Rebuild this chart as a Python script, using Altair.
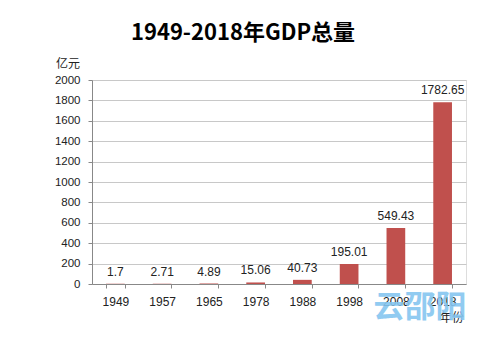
import altair as alt
import pandas as pd

years = ["1949", "1957", "1965", "1978", "1988", "1998", "2008", "2018"]
gdp = [1.7, 2.71, 4.89, 15.06, 40.73, 195.01, 549.43, 1782.65]
labels = ["1.7", "2.71", "4.89", "15.06", "40.73", "195.01", "549.43", "1782.65"]
y_ticks = list(range(0, 2001, 200))

df = pd.DataFrame({"year": years, "gdp": gdp, "label": labels})

FONT = "Noto Sans CJK SC"
NUM_FONT = "Liberation Sans"

x = alt.X("year:N", sort=years,
          scale=alt.Scale(paddingInner=0.6, paddingOuter=0.3),
          axis=alt.Axis(title=None, labelAngle=0, labelFont=NUM_FONT, labelFontSize=12,
                        labelColor="#222", labelPadding=8, domainColor="#888",
                        tickColor="#888", tickSize=4, tickBand="extent", grid=False))
y = alt.Y("gdp:Q", scale=alt.Scale(domain=[0, 2000], nice=False),
          axis=alt.Axis(title=None, values=y_ticks, format="d", labelOverlap=False,
                        labelFont=NUM_FONT, labelFontSize=11.5,
                        labelColor="#222", labelPadding=8, domainColor="#888",
                        tickColor="#888", tickSize=4, gridColor="#c8c8c8"))

base = alt.Chart(df)
bars = base.mark_bar(color="#C0504D").encode(x=x, y=y)
text = base.mark_text(baseline="bottom", dy=-5, font=NUM_FONT, fontSize=12, color="#222").encode(
    x=x, y=y, text="label:N")

title = alt.Chart(pd.DataFrame({"t": ["1949-2018年GDP总量"]})).mark_text(
    font=FONT, fontSize=22, fontWeight="bold", color="#000", baseline="middle", align="center"
).encode(x=alt.value(151), y=alt.value(-47), text="t:N")

unit = alt.Chart(pd.DataFrame({"t": ["亿元"]})).mark_text(
    font=FONT, fontSize=12, color="#222", baseline="middle", align="center"
).encode(x=alt.value(-24), y=alt.value(-16), text="t:N")

xunit = alt.Chart(pd.DataFrame({"t": ["年份"]})).mark_text(
    font=FONT, fontSize=12, color="#222", baseline="middle", align="center"
).encode(x=alt.value(360), y=alt.value(238), text="t:N")

wm = alt.Chart(pd.DataFrame({"t": ["云邵阳"]})).mark_text(
    font=FONT, fontSize=31, fontWeight="bold", color="#86c6f0", opacity=0.9,
    baseline="middle", align="center"
).encode(x=alt.value(328), y=alt.value(228), text="t:N")

chart = alt.layer(bars, text, title, unit, xunit, wm).properties(
    width=374, height=204,
    autosize=alt.AutoSizeParams(type="none"),
    padding={"left": 92, "top": 80, "right": 15, "bottom": 67},
).configure_view(stroke=None).configure(background="white")

chart.save("out.html", embed_options={"renderer": "svg", "actions": False})
